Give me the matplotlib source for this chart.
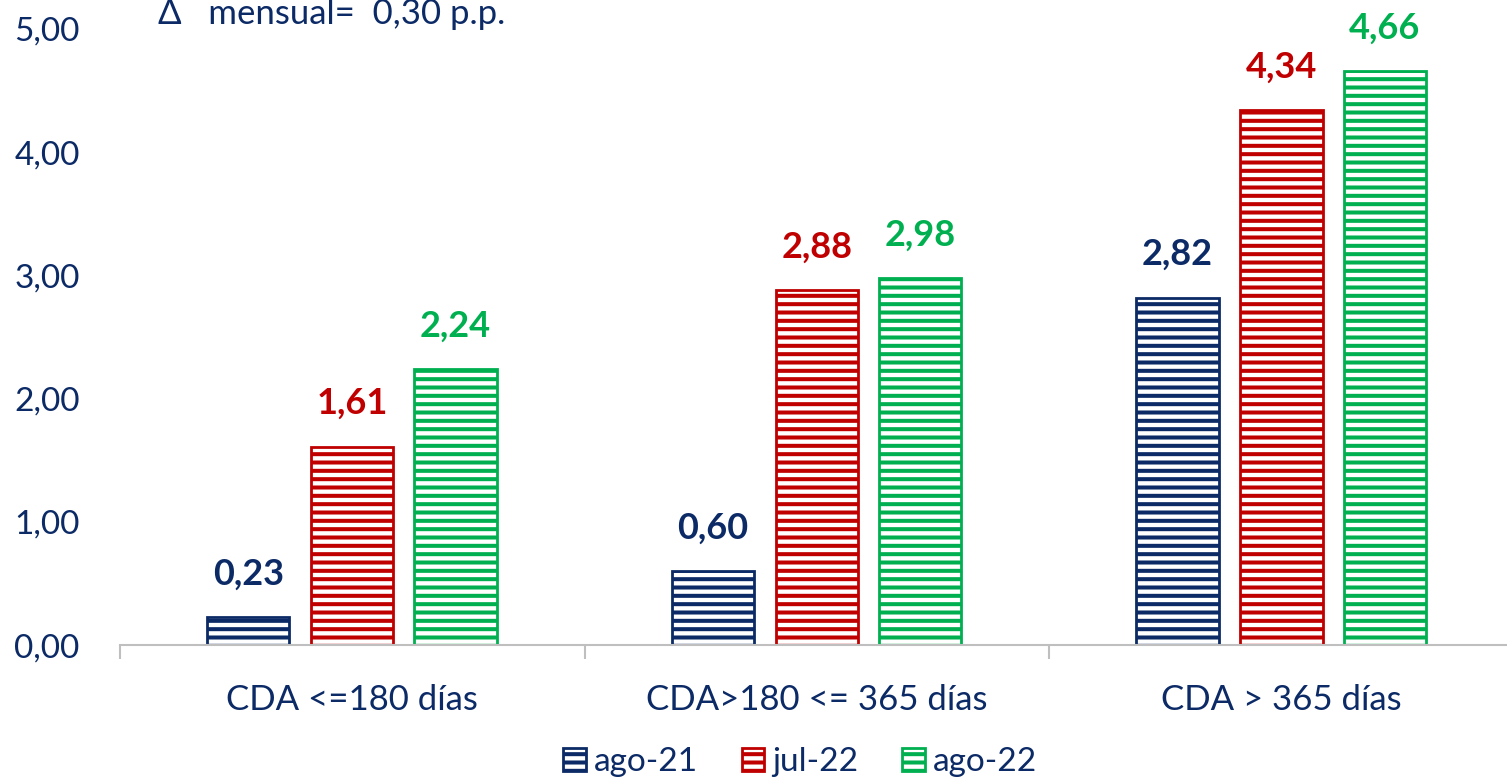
import matplotlib.pyplot as plt
from matplotlib.patches import Patch
import numpy as np

categories = ["CDA <=180 días", "CDA>180 <= 365 días", "CDA > 365 días"]
series_names = ["ago-21", "jul-22", "ago-22"]
ago_21 = [0.23, 0.60, 2.82]
jul_22 = [1.61, 2.88, 4.34]
ago_22 = [2.24, 2.98, 4.66]
yticks = [0, 1, 2, 3, 4, 5]
note = "Δ   mensual=  0,30 p.p."

navy = "#0B2A66"
colors = ["#0B2A66", "#C00000", "#00B050"]

plt.rcParams["font.family"] = ["Lato", "DejaVu Sans"]
plt.rcParams["hatch.linewidth"] = 2.9


def fmt(v: float) -> str:
    return f"{v:.2f}".replace(".", ",")


def main() -> int:
    fig = plt.figure(figsize=(15.07, 7.83), dpi=100)
    ax = fig.add_axes((0.0796, 0.176, 0.925, 0.787))

    x = np.arange(len(categories))
    width = 0.177
    offsets = [-0.224, 0.0, 0.222]

    for values, color, off in zip((ago_21, jul_22, ago_22), colors, offsets):
        bars = ax.bar(
            x + off,
            values,
            width=width,
            facecolor="white",
            edgecolor=color,
            hatch="--",
            linewidth=2,
        )
        for b, v in zip(bars, values):
            ax.annotate(
                fmt(v),
                (b.get_x() + b.get_width() / 2, v),
                xytext=(0, 31),
                textcoords="offset points",
                ha="center",
                va="center",
                fontsize=26,
                fontweight="bold",
                color=color,
            )

    ax.set_xlim(-0.5, 2.5)
    ax.set_ylim(0, 5)
    ax.set_yticks(yticks)
    ax.set_yticklabels([fmt(t) for t in yticks], fontsize=24, color=navy)
    ax.tick_params(axis="y", length=0, pad=29)

    ax.set_xticks(x)
    ax.set_xticklabels(categories, fontsize=25, color=navy)
    ax.set_xticks([-0.5, 0.5, 1.5, 2.5], minor=True)
    ax.tick_params(axis="x", which="major", length=0, pad=28)
    ax.tick_params(axis="x", which="minor", length=10, width=1.5, color="#BFBFBF")

    for side in ("left", "right", "top"):
        ax.spines[side].set_visible(False)
    ax.spines["bottom"].set_color("#BFBFBF")
    ax.spines["bottom"].set_linewidth(1.5)

    fig.text(0.105, 0.969, note, fontsize=25, color=navy, va="baseline")

    handles = [
        Patch(facecolor="white", edgecolor=c, hatch="--", linewidth=2)
        for c in colors
    ]
    fig.legend(
        handles,
        series_names,
        loc="center",
        bbox_to_anchor=(0.531, 0.027),
        ncol=3,
        frameon=False,
        fontsize=24,
        labelcolor=navy,
        handlelength=0.68,
        handleheight=0.68,
        handletextpad=0.25,
        columnspacing=1.3,
    )

    fig.savefig("out.png", dpi=100)
    return 0


if __name__ == "__main__":
    exit(main())
